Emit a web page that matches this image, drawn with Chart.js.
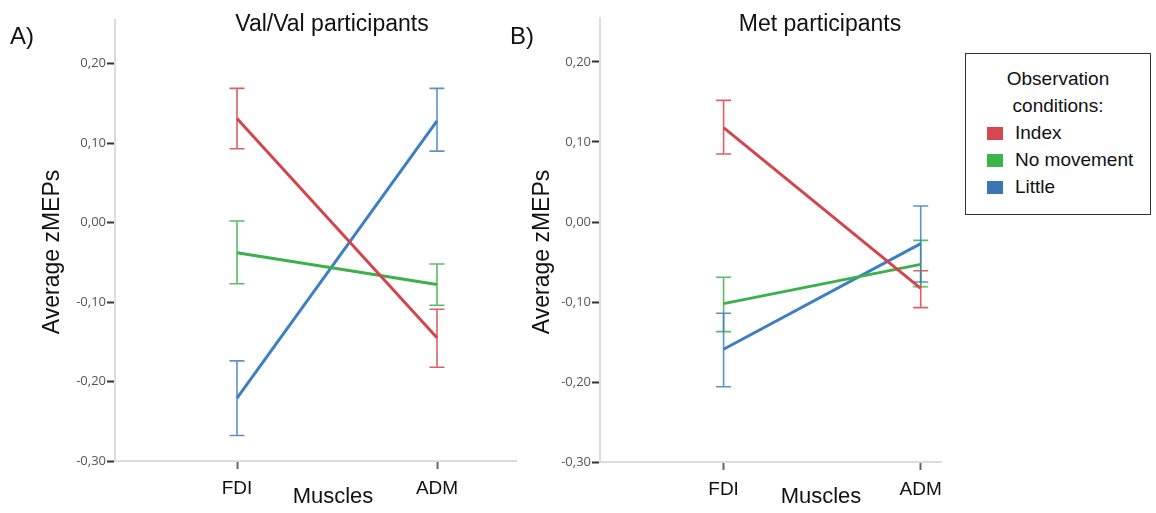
<!DOCTYPE html>
<html>
<head>
<meta charset="utf-8">
<script src="https://cdn.jsdelivr.net/npm/chart.js@4.4.1/dist/chart.umd.min.js"></script>
<style>
  body { margin: 0; background: #fff; }
  #wrap { position: relative; width: 1156px; height: 513px; overflow: hidden; font-family: "Liberation Sans", Arial, sans-serif; }
  .panel { position: absolute; top: 0; }
  #boxA { left: 0; width: 520px; height: 513px; }
  #boxB { left: 480px; width: 470px; height: 513px; }
  #legend { position: absolute; left: 965px; top: 53px; width: 186px; height: 162px; border: 1px solid #333; box-sizing: border-box; padding-top: 11px; font-size: 19px; color: #111; }
  #legend .ttl { text-align: center; line-height: 27px; }
  #legend .item { line-height: 27px; padding-left: 21px; }
  #legend .sw { display: inline-block; width: 16px; height: 13px; margin-right: 12px; vertical-align: -1px; }
</style>
</head>
<body>
<div id="wrap">
  <div class="panel" id="boxA"><canvas id="chartA"></canvas></div>
  <div class="panel" id="boxB"><canvas id="chartB"></canvas></div>
  <div id="legend"></div>
</div>
<script>
// カテゴリ
const muscles = ['FDI', 'ADM'];
const conditions = ['Index', 'No movement', 'Little'];
const yTicks = [-0.3, -0.2, -0.1, 0, 0.1, 0.2];

// Val/Val participants (平均と誤差範囲)
const valIndex = [0.131, -0.145];
const valIndexLo = [0.093, -0.182];
const valIndexHi = [0.169, -0.109];
const valNoMove = [-0.038, -0.078];
const valNoMoveLo = [-0.077, -0.104];
const valNoMoveHi = [0.002, -0.052];
const valLittle = [-0.221, 0.128];
const valLittleLo = [-0.268, 0.090];
const valLittleHi = [-0.174, 0.169];

// Met participants
const metIndex = [0.118, -0.083];
const metIndexLo = [0.085, -0.107];
const metIndexHi = [0.152, -0.061];
const metNoMove = [-0.102, -0.053];
const metNoMoveLo = [-0.137, -0.081];
const metNoMoveHi = [-0.069, -0.023];
const metLittle = [-0.159, -0.027];
const metLittleLo = [-0.206, -0.075];
const metLittleHi = [-0.114, 0.020];

const lineColors = ['#d5444c', '#3cb04a', '#3d7fc1'];
const barColors = ['rgba(213,68,76,0.85)', 'rgba(60,176,74,0.85)', 'rgba(61,127,193,0.85)'];
const swatchColors = ['#d64750', '#3db34c', '#3a77b2'];

// 凡例
var legend = document.getElementById('legend');
legend.innerHTML = '<div class="ttl">Observation</div><div class="ttl">conditions:</div>';
conditions.forEach(function (name, i) {
  var row = document.createElement('div');
  row.className = 'item';
  row.innerHTML = '<span class="sw" style="background:' + swatchColors[i] + '"></span>' + name;
  legend.appendChild(row);
});

function fmt(v) {
  var s = Math.abs(v).toFixed(2).replace('.', ',');
  return (v < -1e-9 ? '-' : '') + s;
}

// 誤差棒プラグイン
const errorBars = {
  id: 'errorBars',
  beforeDatasetsDraw(chart) {
    const ctx = chart.ctx;
    const xs = chart.scales.x, ys = chart.scales.y;
    chart.data.datasets.forEach(function (ds, di) {
      ds.data.forEach(function (p, i) {
        const x = xs.getPixelForValue(p.x);
        const lo = ys.getPixelForValue(ds.lows[i]);
        const hi = ys.getPixelForValue(ds.highs[i]);
        ctx.save();
        ctx.strokeStyle = barColors[di];
        ctx.lineWidth = 1.6;
        ctx.beginPath();
        ctx.moveTo(x, lo); ctx.lineTo(x, hi);
        ctx.moveTo(x - 7.5, lo); ctx.lineTo(x + 7.5, lo);
        ctx.moveTo(x - 7.5, hi); ctx.lineTo(x + 7.5, hi);
        ctx.stroke();
        ctx.restore();
      });
    });
  }
};

// パネル内テキスト
const panelText = {
  id: 'panelText',
  afterDraw(chart, args, o) {
    const ctx = chart.ctx;
    ctx.save();
    ctx.fillStyle = '#111';
    ctx.textBaseline = 'alphabetic';
    ctx.font = '23px "Liberation Sans"';
    ctx.textAlign = 'center';
    ctx.fillText(o.title, o.titleX, 31);
    ctx.font = '24px "Liberation Sans"';
    ctx.textAlign = 'left';
    ctx.fillText(o.letter, o.letterX, 44);
    ctx.font = '22px "Liberation Sans"';
    ctx.textAlign = 'center';
    ctx.fillText('Muscles', o.titleX + 1, 503);
    ctx.translate(o.yTitleX, 252);
    ctx.rotate(-Math.PI / 2);
    ctx.font = '23px "Liberation Sans"';
    ctx.textBaseline = 'middle';
    ctx.fillText('Average zMEPs', 0, 0);
    ctx.restore();
  }
};

function makePanel(canvasId, means, lows, highs, o) {
  const datasets = conditions.map(function (name, i) {
    return {
      label: name,
      data: means[i].map(function (v, j) { return { x: j + 1, y: v }; }),
      lows: lows[i],
      highs: highs[i],
      borderColor: lineColors[i],
      borderWidth: 3,
      pointRadius: 0,
      showLine: true,
      fill: false
    };
  });
  return new Chart(document.getElementById(canvasId), {
    type: 'scatter',
    data: { datasets: datasets },
    options: {
      responsive: true,
      maintainAspectRatio: false,
      animation: false,
      layout: { padding: { top: o.top, right: o.right, left: 0, bottom: 0 } },
      plugins: {
        legend: { display: false },
        tooltip: { enabled: false },
        panelText: o.text
      },
      scales: {
        x: {
          type: 'linear',
          min: o.xMin,
          max: o.xMax,
          afterBuildTicks: function (s) { s.ticks = muscles.map(function (m, j) { return { value: j + 1 }; }); },
          afterFit: function (s) { s.height = o.xH; },
          ticks: {
            callback: function (v) { return muscles[v - 1]; },
            font: { family: 'Liberation Sans', size: 19 },
            color: '#111',
            padding: 8,
            maxRotation: 0
          },
          grid: { drawOnChartArea: false, drawTicks: true, tickLength: 8, tickColor: '#666', tickWidth: 2 },
          border: { display: true, color: '#dcdcdc', width: 2 }
        },
        y: {
          min: -0.3,
          max: 0.255,
          afterBuildTicks: function (s) { s.ticks = yTicks.map(function (v) { return { value: v }; }); },
          afterFit: function (s) { s.width = o.yW; },
          ticks: {
            callback: function (v) { return fmt(v); },
            font: { family: 'Open Sans', size: 13 },
            color: '#555',
            padding: 1
          },
          grid: { drawOnChartArea: false, drawTicks: true, tickLength: 8, tickColor: '#333', tickWidth: 2 },
          border: { display: true, color: '#dcdcdc', width: 2 }
        }
      }
    },
    plugins: [errorBars, panelText]
  });
}

makePanel('chartA',
  [valIndex, valNoMove, valLittle],
  [valIndexLo, valNoMoveLo, valLittleLo],
  [valIndexHi, valNoMoveHi, valLittleHi],
  { top: 20, right: 4, xMin: 0.39, xMax: 2.395, xH: 52, yW: 115,
    text: { title: 'Val/Val participants', titleX: 332, letter: 'A)', letterX: 10, yTitleX: 53 } });

makePanel('chartB',
  [metIndex, metNoMove, metLittle],
  [metIndexLo, metNoMoveLo, metLittleLo],
  [metIndexHi, metNoMoveHi, metLittleHi],
  { top: 18, right: 3, xMin: 0.373, xMax: 2.103, xH: 51, yW: 120,
    text: { title: 'Met participants', titleX: 340, letter: 'B)', letterX: 30, yTitleX: 63 } });
</script>
</body>
</html>
